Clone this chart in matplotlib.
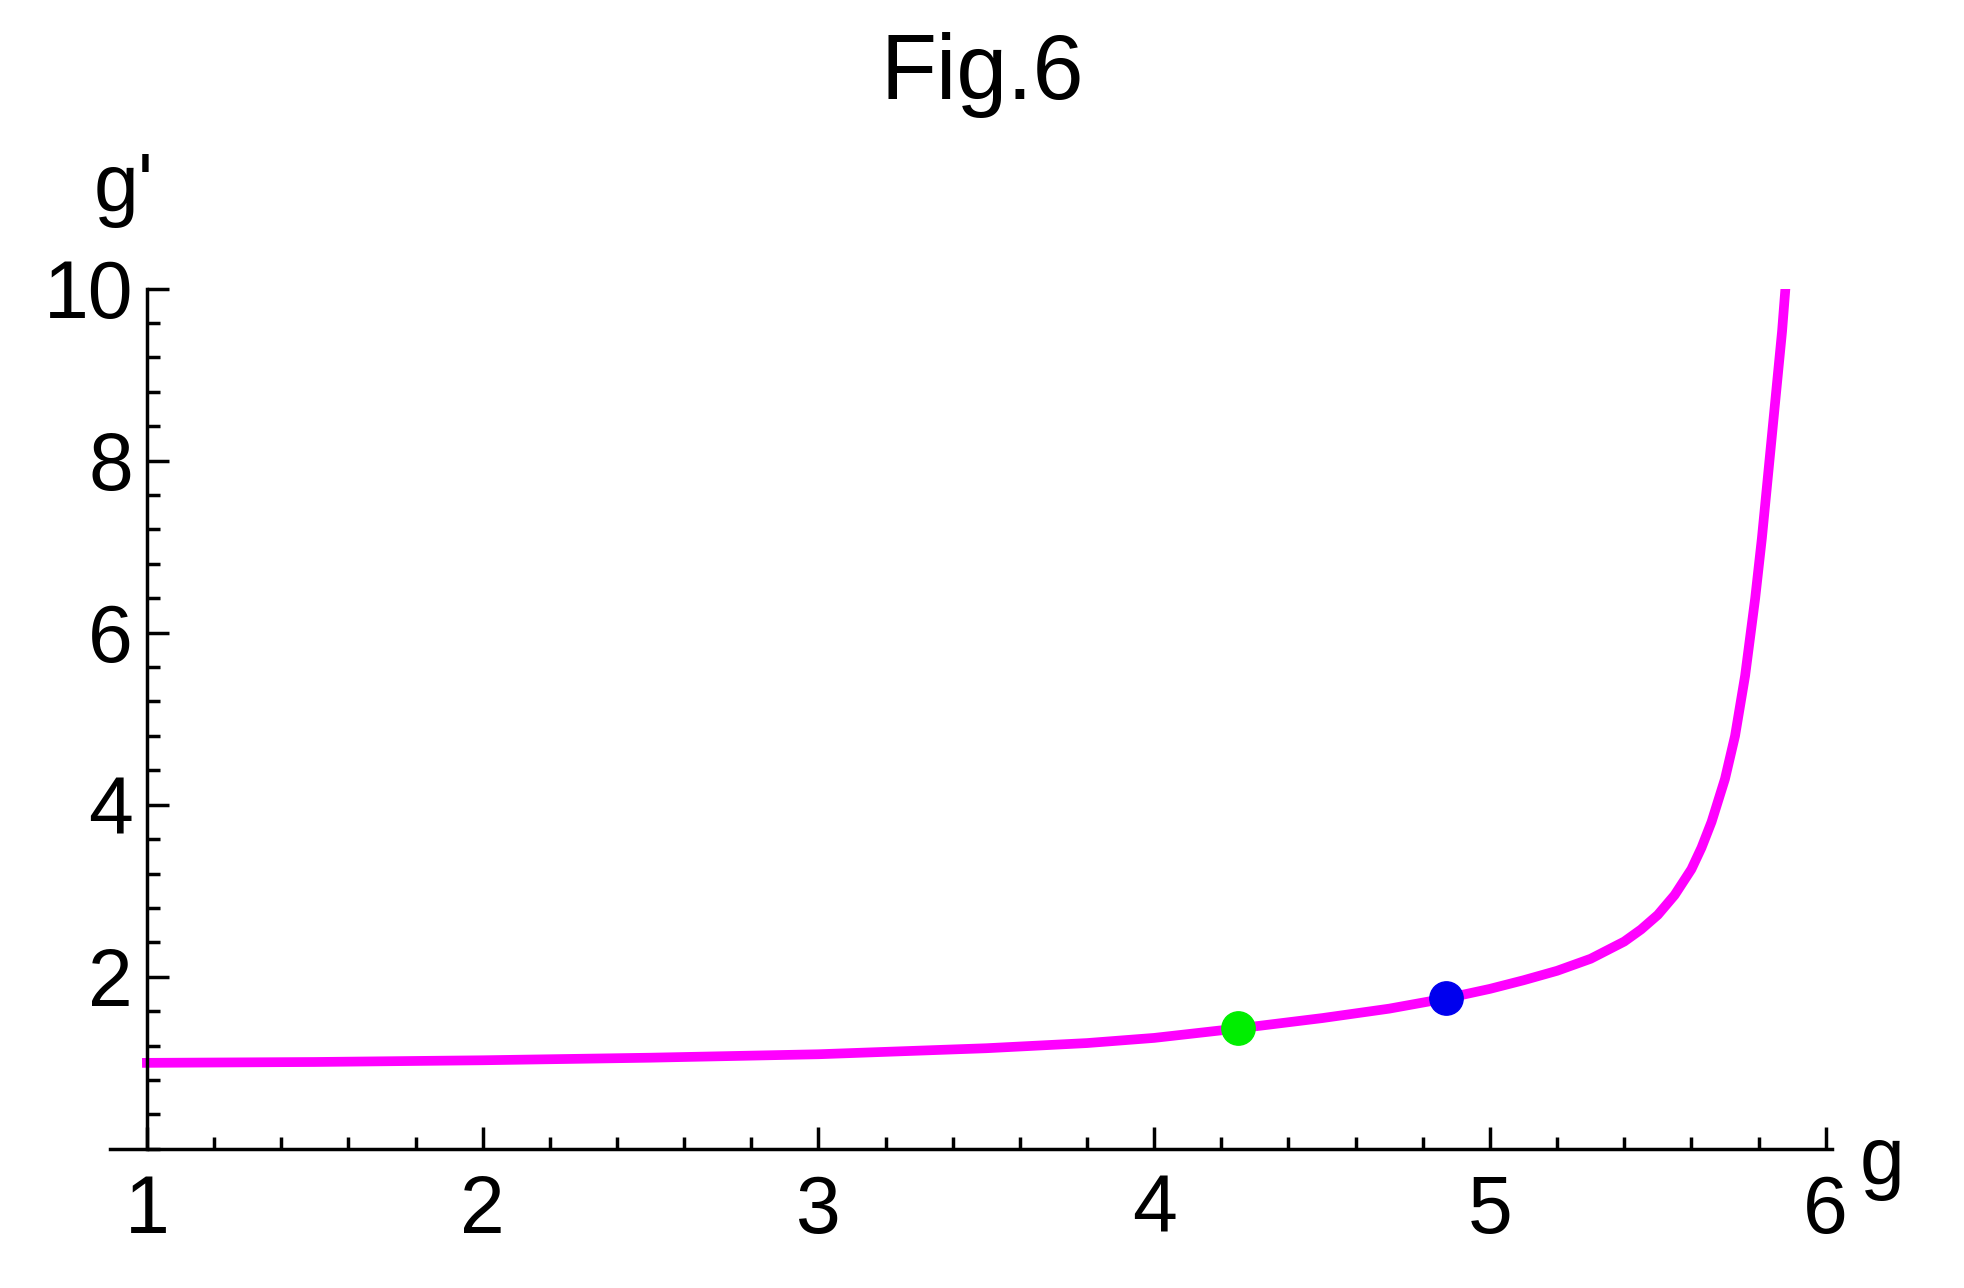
import matplotlib.pyplot as plt
import numpy as np
from matplotlib.ticker import MultipleLocator

plt.rcParams['font.family'] = ['Liberation Sans', 'DejaVu Sans']

# curve
g_vals = [1.0, 1.5, 2.0, 2.5, 3.0, 3.5, 3.8, 4.0, 4.25, 4.5, 4.7, 4.87, 5.0, 5.1, 5.2, 5.3,
          5.4, 5.45, 5.5, 5.55, 5.6, 5.63, 5.66, 5.7, 5.73, 5.76, 5.79, 5.81, 5.83, 5.85,
          5.87, 5.88]
gp_vals = [1.0, 1.01, 1.03, 1.06, 1.1, 1.17, 1.23, 1.29, 1.4, 1.52, 1.63, 1.75, 1.86, 1.96,
           2.07, 2.21, 2.41, 2.55, 2.72, 2.95, 3.25, 3.5, 3.8, 4.3, 4.8, 5.5, 6.4, 7.1, 7.9,
           8.7, 9.5, 10.0]
green_pt = (4.25, 1.4)
blue_pt = (4.87, 1.75)

fig = plt.figure(figsize=(19.64, 12.88), dpi=100)
ax = fig.add_axes([0.056, 0.108, 0.877, 0.668])

ax.plot(g_vals, gp_vals, color='#ff00ff', lw=7, solid_joinstyle='round')
ax.plot(*green_pt, 'o', color='#00ee00', ms=24)
ax.plot(*blue_pt, 'o', color='#0000ee', ms=24)

ax.set_xlim(0.89, 6.02)
ax.set_ylim(0, 10)
ax.spines['top'].set_visible(False)
ax.spines['right'].set_visible(False)
ax.spines['left'].set_position(('data', 1))
for s in ('left', 'bottom'):
    ax.spines[s].set_linewidth(2.5)
ax.spines['left'].set_bounds(0, 10)

ax.set_xticks([1, 2, 3, 4, 5, 6])
ax.set_yticks([2, 4, 6, 8, 10])
ax.xaxis.set_minor_locator(MultipleLocator(0.2))
ax.yaxis.set_minor_locator(MultipleLocator(0.4))
ax.tick_params(which='both', direction='in', width=2.5, labelsize=58, pad=18)
ax.tick_params(which='major', length=16)
ax.tick_params(which='minor', length=9)
ax.tick_params(axis='y', pad=10)

ax.text(0.93, 10.7, "g'", fontsize=58, ha='center', va='bottom')
ax.text(6.1, -0.6, "g", fontsize=58, ha='left', va='bottom', clip_on=False)
fig.suptitle('Fig.6', fontsize=66, y=0.975)

fig.savefig('out.png', dpi=100)
